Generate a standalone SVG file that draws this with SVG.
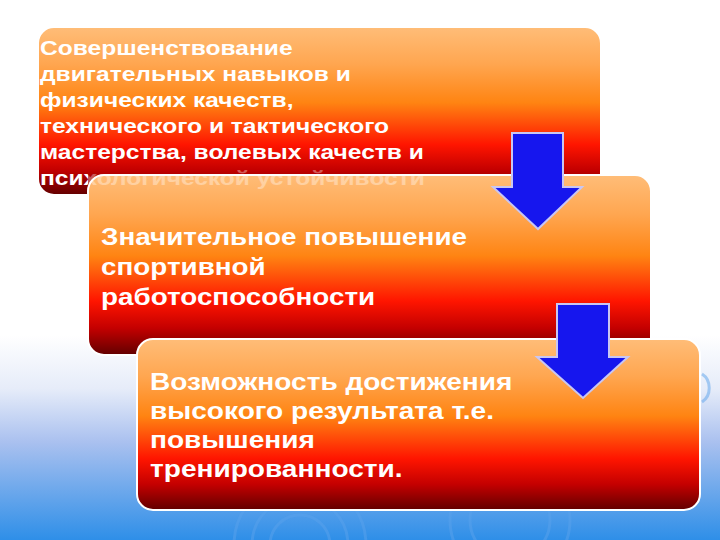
<svg xmlns="http://www.w3.org/2000/svg" width="720" height="540" viewBox="0 0 720 540">
  <defs>
    <linearGradient id="bg" x1="0" y1="0" x2="0" y2="1">
      <stop offset="0" stop-color="#ffffff"/>
      <stop offset="0.62" stop-color="#ffffff"/>
      <stop offset="0.72" stop-color="#e6ecf9"/>
      <stop offset="0.82" stop-color="#a9c0ef"/>
      <stop offset="1" stop-color="#2e8fe8"/>
    </linearGradient>
    <linearGradient id="box" x1="0" y1="0" x2="0" y2="1">
      <stop offset="0" stop-color="#ffbd78"/>
      <stop offset="0.22" stop-color="#ffa650"/>
      <stop offset="0.45" stop-color="#ff8412"/>
      <stop offset="0.7" stop-color="#ff1500"/>
      <stop offset="0.85" stop-color="#c40000"/>
      <stop offset="1" stop-color="#620000"/>
    </linearGradient>
    <linearGradient id="fade" gradientUnits="userSpaceOnUse" x1="0" y1="0" x2="720" y2="0">
      <stop offset="0" stop-color="#ffffff"/>
      <stop offset="0.112" stop-color="#ffffff"/>
      <stop offset="0.113" stop-color="#ffffff" stop-opacity="0.35"/>
      <stop offset="1" stop-color="#ffffff" stop-opacity="0.35"/>
    </linearGradient>
    <style>
      .box { fill: url(#box); stroke: #ffffff; stroke-width: 2; }
      .t1 { font-family: "Liberation Sans", Arial, sans-serif; font-weight: bold; font-size: 21px; fill: #ffffff; }
      .t2 { font-family: "Liberation Sans", Arial, sans-serif; font-weight: bold; font-size: 24px; fill: #ffffff; }
      .arrow { fill: #1616ee; stroke: #c9c6f2; stroke-width: 2; stroke-linejoin: miter; }
      .ring { fill: none; stroke: #5aa2ec; stroke-width: 3; opacity: 0.5; }
    </style>
  </defs>
  <rect x="0" y="0" width="720" height="540" fill="url(#bg)"/>
  <g id="decor">
    <circle class="ring" cx="300" cy="545" r="30"/>
    <circle class="ring" cx="300" cy="545" r="48"/>
    <circle class="ring" cx="300" cy="545" r="66"/>
    <circle class="ring" cx="510" cy="520" r="40"/>
    <circle class="ring" cx="510" cy="520" r="60"/>
    <path class="ring" d="M702 374 A14 16 0 0 1 702 402" />
  </g>
  <g id="node1">
    <rect class="box" x="38" y="27" width="563" height="168" rx="16" stroke="none"/>
    <g transform="matrix(1.17 0 0 1 -6.8 0)">
      <text class="t1" x="40" y="55">Совершенствование</text>
      <text class="t1" x="40" y="81">двигательных навыков и</text>
      <text class="t1" x="40" y="107">физических качеств,</text>
      <text class="t1" x="40" y="133">технического и тактического</text>
      <text class="t1" x="40" y="159">мастерства, волевых качеств и</text>
    </g>
  </g>
  <g id="node2">
    <rect class="box" x="88" y="175" width="563" height="180" rx="16"/>
    <g transform="matrix(1.17 0 0 1 -6.8 0)">
      <text class="t1" x="40" y="185" style="fill:url(#fade)">психологической устойчивости</text>
    </g>
    <g transform="matrix(1.16 0 0 1 -16.16 0)">
      <text class="t2" x="101" y="245">Значительное повышение</text>
      <text class="t2" x="101" y="275">спортивной</text>
      <text class="t2" x="101" y="305">работоспособности</text>
    </g>
  </g>
  <g id="node3">
    <rect class="box" x="137" y="339" width="563" height="171" rx="16"/>
    <g transform="matrix(1.17 0 0 1 -25.5 0)">
      <text class="t2" x="150" y="390">Возможность достижения</text>
      <text class="t2" x="150" y="419">высокого результата т.е.</text>
      <text class="t2" x="150" y="448">повышения</text>
      <text class="t2" x="150" y="477">тренированности.</text>
    </g>
  </g>
  <g id="connectors">
    <polygon class="arrow" points="512,133 563,133 563,187 582,187 538,229 493,187 512,187"/>
    <polygon class="arrow" points="557,304 609,304 609,357 628,357 583,398 537,357 557,357"/>
  </g>
</svg>
